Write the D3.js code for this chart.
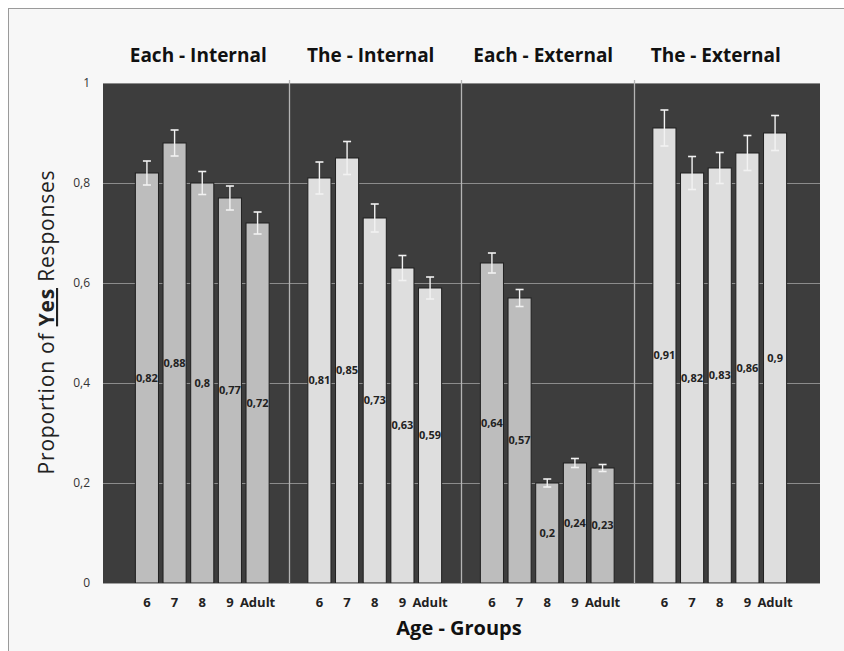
<!DOCTYPE html>
<html>
<head>
<meta charset="utf-8">
<script src="https://cdn.jsdelivr.net/npm/d3@7"></script>
<style>
  body { margin: 0; background: #fff; }
  svg { display: block; }
  text { font-family: "Open Sans", "DejaVu Sans", sans-serif; }
</style>
</head>
<body>
<div id="chart"></div>
<script>
// data
var conditions = ["Each - Internal", "The - Internal", "Each - External", "The - External"];
var ageGroups = ["6", "7", "8", "9", "Adult"];
var eachInternal = [0.82, 0.88, 0.8, 0.77, 0.72];
var theInternal = [0.81, 0.85, 0.73, 0.63, 0.59];
var eachExternal = [0.64, 0.57, 0.2, 0.24, 0.23];
var theExternal = [0.91, 0.82, 0.83, 0.86, 0.9];
var errEachInternal = [0.024, 0.026, 0.023, 0.024, 0.022];
var errTheInternal = [0.032, 0.033, 0.028, 0.025, 0.022];
var errEachExternal = [0.02, 0.017, 0.008, 0.009, 0.007];
var errTheExternal = [0.036, 0.033, 0.031, 0.035, 0.035];
var yTicks = [0, 0.2, 0.4, 0.6, 0.8, 1];

var values = [eachInternal, theInternal, eachExternal, theExternal];
var errors = [errEachInternal, errTheInternal, errEachExternal, errTheExternal];
var barColors = ["#bdbdbd", "#dedede", "#bdbdbd", "#dedede"];

var W = 844, H = 651;
var plot = {left: 103, right: 820, top: 83, bottom: 583};

var svg = d3.select("#chart").append("svg")
    .attr("width", W)
    .attr("height", H);

// page frame
svg.append("rect")
    .attr("x", 8.5).attr("y", 8.5)
    .attr("width", W).attr("height", H)
    .attr("fill", "#f7f7f7")
    .attr("stroke", "#9a9a9a");

var y = d3.scaleLinear().domain([0, 1]).range([plot.bottom, plot.top]);

var xGroup = d3.scaleBand().domain(conditions).range([116, 806]);
var xBar = d3.scaleBand().domain(ageGroups)
    .range([0, xGroup.bandwidth()])
    .paddingInner(0.165)
    .paddingOuter(0.7);

// dark plot background
svg.append("rect")
    .attr("x", plot.left).attr("y", plot.top)
    .attr("width", plot.right - plot.left)
    .attr("height", plot.bottom - plot.top)
    .attr("fill", "#3d3d3d");

// top edge
svg.append("line")
    .attr("x1", plot.left).attr("x2", plot.right)
    .attr("y1", plot.top + 0.5).attr("y2", plot.top + 0.5)
    .attr("stroke", "#8a8a8a");

// gridlines
svg.selectAll(".grid")
    .data(yTicks.filter(function(d) { return d > 0 && d < 1; }))
    .enter().append("line")
    .attr("x1", plot.left).attr("x2", plot.right)
    .attr("y1", function(d) { return Math.round(y(d)) + 0.5; })
    .attr("y2", function(d) { return Math.round(y(d)) + 0.5; })
    .attr("stroke", "#8c8c8c")
    .attr("stroke-width", 1);

// y axis labels
var fmt = function(d) { return String(d).replace(".", ","); };
var yAxis = d3.axisLeft(y).tickValues(yTicks).tickSize(0).tickPadding(13).tickFormat(fmt);
var yg = svg.append("g").attr("transform", "translate(" + plot.left + ",0)").call(yAxis);
yg.select(".domain").remove();
yg.selectAll("text")
    .attr("font-size", 12)
    .attr("fill", "#333")
    .style("font-family", "'Open Sans', sans-serif");

// dividers between panels
svg.selectAll(".divider")
    .data(conditions.slice(1))
    .enter().append("line")
    .attr("x1", function(d) { return Math.round(xGroup(d)) + 0.5; })
    .attr("x2", function(d) { return Math.round(xGroup(d)) + 0.5; })
    .attr("y1", plot.top - 3).attr("y2", plot.bottom)
    .attr("stroke", "#b4b4b4")
    .attr("stroke-width", 1.3);

// panels
conditions.forEach(function(cond, gi) {
    var g = svg.append("g").attr("transform", "translate(" + xGroup(cond) + ",0)");
    var rows = ageGroups.map(function(a, i) {
        return {age: a, v: values[gi][i], e: errors[gi][i]};
    });

    g.selectAll("rect.bar")
        .data(rows)
        .enter().append("rect")
        .attr("class", "bar")
        .attr("x", function(d) { return xBar(d.age); })
        .attr("y", function(d) { return y(d.v); })
        .attr("width", xBar.bandwidth())
        .attr("height", function(d) { return y(0) - y(d.v); })
        .attr("fill", barColors[gi])
        .attr("stroke", "#1f1f1f")
        .attr("stroke-width", 1);

    // error bars
    var eb = g.selectAll("g.err")
        .data(rows)
        .enter().append("g")
        .attr("class", "err")
        .attr("transform", function(d) { return "translate(" + (xBar(d.age) + xBar.bandwidth() / 2) + ",0)"; });
    eb.append("line")
        .attr("y1", function(d) { return y(d.v + d.e); })
        .attr("y2", function(d) { return y(d.v - d.e); })
        .attr("stroke", "#f2f2f2").attr("stroke-width", 1.4);
    eb.append("line")
        .attr("x1", -4).attr("x2", 4)
        .attr("y1", function(d) { return y(d.v + d.e); })
        .attr("y2", function(d) { return y(d.v + d.e); })
        .attr("stroke", "#f2f2f2").attr("stroke-width", 1.6);
    eb.append("line")
        .attr("x1", -4).attr("x2", 4)
        .attr("y1", function(d) { return y(d.v - d.e); })
        .attr("y2", function(d) { return y(d.v - d.e); })
        .attr("stroke", "#f2f2f2").attr("stroke-width", 1.6);

    // value labels in the middle of the bar
    g.selectAll("text.val")
        .data(rows)
        .enter().append("text")
        .attr("class", "val")
        .attr("x", function(d) { return xBar(d.age) + xBar.bandwidth() / 2; })
        .attr("y", function(d) { return y(d.v / 2); })
        .attr("dy", "0.35em")
        .attr("text-anchor", "middle")
        .attr("font-size", 11)
        .attr("font-weight", "bold")
        .attr("fill", "#222")
        .text(function(d) { return fmt(d.v); });

    // x tick labels
    g.selectAll("text.age")
        .data(rows)
        .enter().append("text")
        .attr("class", "age")
        .attr("x", function(d) { return xBar(d.age) + xBar.bandwidth() / 2; })
        .attr("y", 607)
        .attr("text-anchor", "middle")
        .attr("font-size", 13)
        .attr("font-weight", "bold")
        .attr("fill", "#222")
        .text(function(d) { return d.age; });

    // panel title
    svg.append("text")
        .attr("x", xGroup(cond) + xGroup.bandwidth() / 2 - 4)
        .attr("y", 62)
        .attr("text-anchor", "middle")
        .attr("font-size", 19)
        .attr("font-weight", "bold")
        .attr("fill", "#111")
        .text(cond);
});

// bottom axis line
svg.append("line")
    .attr("x1", plot.left).attr("x2", plot.right)
    .attr("y1", plot.bottom + 0.5).attr("y2", plot.bottom + 0.5)
    .attr("stroke", "#a0a0a0");

// x axis title
svg.append("text")
    .attr("x", 459).attr("y", 635)
    .attr("text-anchor", "middle")
    .attr("font-size", 20)
    .attr("font-weight", "bold")
    .attr("fill", "#111")
    .text("Age - Groups");

// y axis title with bold underlined "Yes"
var yt = svg.append("text")
    .attr("transform", "translate(54,322) rotate(-90)")
    .attr("text-anchor", "middle")
    .attr("font-size", 21)
    .attr("letter-spacing", 0.8)
    .attr("fill", "#222");
yt.append("tspan").text("Proportion of ");
yt.append("tspan").attr("font-weight", "bold").attr("text-decoration", "underline").text("Yes");
yt.append("tspan").text(" Responses");
</script>
</body>
</html>
